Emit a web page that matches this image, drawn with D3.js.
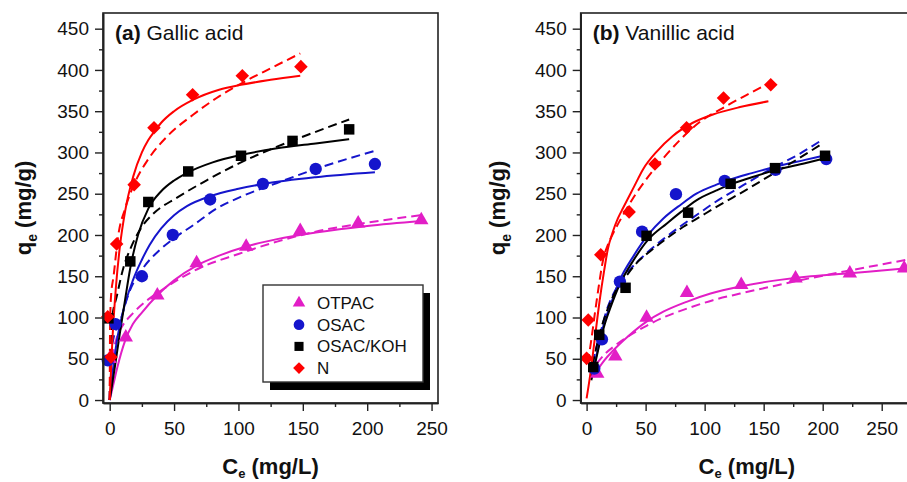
<!DOCTYPE html>
<html>
<head>
<meta charset="utf-8">
<script src="https://cdn.jsdelivr.net/npm/d3@7"></script>
<style>
  body { margin: 0; background: #fff; }
  text { font-family: Arial, "Liberation Sans", sans-serif; fill: #111; }
</style>
</head>
<body>
<svg id="chart"></svg>
<script>
// series names (legend order)
const seriesNames = ["OTPAC", "OSAC", "OSAC/KOH", "N"];

// axis ticks
const yTickValues = [0, 50, 100, 150, 200, 250, 300, 350, 400, 450];
const yMinorValues = [25, 75, 125, 175, 225, 275, 325, 375, 425];
const xTickValues = [0, 50, 100, 150, 200, 250];
const xMinorValues = [25, 75, 125, 175, 225];

// (a) Gallic acid - measured points [Ce, qe]
const gallicOTPAC = [[0, 50], [12.5, 76], [37, 127], [67.5, 166], [106, 186], [148, 205], [193, 214], [242, 218]];
const gallicOSAC = [[-1.5, 48], [4.5, 92], [25, 150], [49, 200], [78, 243], [119, 262], [160, 280], [206, 286]];
const gallicKOH = [[-1, 99], [16, 168], [30, 240], [61, 277], [102, 296], [142, 314], [186, 328]];
const gallicN = [[1, 52], [-1.5, 101], [5.4, 189], [19, 261], [34.4, 330], [64.4, 370], [103, 393], [148.5, 404]];

// (a) fitted curves, solid (fit1) and dashed (fit2)
const gallicOTPACFit1 = [[0, 0], [3, 20], [6, 40], [12, 72], [18, 92], [25, 106], [37, 127], [50, 145], [67.5, 163], [85, 175], [106, 186], [130, 195], [160, 203], [200, 211], [242, 217]];
const gallicOTPACFit2 = [[0, 0], [1, 40], [3, 60], [6, 78], [10, 90], [18, 105], [30, 122], [44, 137], [70, 160], [100, 177], [130, 192], [160, 204], [200, 215], [242, 224]];
const gallicOSACFit1 = [[0, 0], [2, 30], [5.4, 70], [10, 105], [18, 145], [25, 170], [31, 188], [40, 208], [50, 224], [60, 235], [78, 247], [100, 256], [120, 262], [160, 270], [206, 276]];
const gallicOSACFit2 = [[0, 0], [1, 55], [3, 75], [8, 95], [15, 130], [26, 160], [39, 182], [50, 196], [65, 212], [83, 232], [100, 245], [130, 263], [160, 280], [206, 302]];
const gallicKOHFit1 = [[0, 0], [4, 40], [8, 82], [12, 122], [16, 160], [22, 200], [30, 232], [40, 253], [50, 266], [61, 276], [80, 288], [102, 297], [130, 305], [160, 311], [186, 316]];
const gallicKOHFit2 = [[0, 0], [1, 80], [2, 100], [5.4, 125], [10.6, 160], [16, 183], [25, 210], [34, 226], [52, 245], [75, 266], [102, 288], [130, 307], [160, 325], [186, 340]];
const gallicNFit1 = [[0, 0], [2, 70], [5, 140], [8, 187], [12, 229], [18.3, 271], [25, 300], [30, 315], [35, 326], [40, 336], [50, 350], [65, 364], [85, 376], [102, 382], [125, 388], [148, 393]];
const gallicNFit2 = [[0, 0], [0.3, 90], [1, 125], [3, 150], [6.7, 200], [12, 232], [20, 265], [30, 292], [45, 320], [65, 346], [85, 368], [105, 386], [125, 402], [148, 420]];

// (b) Vanillic acid - measured points
const vanOTPAC = [[9, 32], [24.3, 53], [50.8, 100], [85, 130], [131, 139.5], [177, 147.6], [223, 153.6], [269, 159.7]];
const vanOSAC = [[6.5, 38], [13, 73.6], [28.2, 143.5], [47, 204], [75.7, 249.5], [117, 265.6], [160, 279], [203, 292]];
const vanKOH = [[5.6, 40], [10.7, 79], [33, 136], [50.8, 199], [86, 227], [122, 262], [159.6, 281], [202, 296]];
const vanN = [[0, 50.5], [1.4, 97], [12, 176], [36, 228], [57.9, 286], [84.7, 330], [116, 366], [156, 382]];

// (b) fitted curves
const vanOTPACFit1 = [[5.6, 28], [10, 38], [15, 48], [22.5, 60], [35, 77], [50.8, 95], [65, 107], [84.7, 119], [105, 129], [130, 137.5], [163.8, 145.6], [190, 150], [223, 153.6], [250, 157], [275, 160]];
const vanOTPACFit2 = [[8.5, 44], [15, 55], [25, 67], [35, 77], [50.8, 90], [65, 100], [87.5, 112], [107, 121], [130, 129], [158, 138], [177, 144], [223, 157], [275, 171]];
const vanOSACFit1 = [[4, 26], [8, 52], [11.3, 73], [15, 94], [19.7, 113], [28, 145], [40, 175], [52, 200], [65, 220], [80, 237], [93, 250], [110, 261], [121, 267], [140, 275], [161, 283], [185, 291], [203, 297]];
const vanOSACFit2 = [[5, 45], [8, 62], [12.4, 85], [16.6, 107], [25, 135], [35, 155], [50.8, 178], [65, 195], [79, 210], [95, 226], [107, 238], [130, 258], [160, 283], [180, 298], [197, 313]];
const vanKOHFit1 = [[4, 24], [8, 49], [11.3, 70], [15, 90], [19.7, 110], [28, 140], [40, 170], [52, 194], [68, 214], [80, 228], [93, 242], [110, 254], [121, 261], [140, 270], [161, 279], [185, 287], [202, 293]];
const vanKOHFit2 = [[5, 42], [8.5, 65], [12, 85], [17, 107], [25, 133], [35, 153], [45, 170], [53.6, 180], [68, 196], [82, 210], [96, 222], [110, 234], [135.6, 255], [160, 276], [180, 293], [200, 311]];
const vanNFit1 = [[0, 2], [3, 30], [7, 75], [11, 120], [15, 158], [18, 183], [22, 203], [26.5, 220], [31, 233], [40, 258], [48, 280], [60, 302], [73, 320], [90, 336], [107, 346], [130, 355], [154, 362]];
const vanNFit2 = [[1, 45], [4, 73], [7, 105], [10, 135], [14, 170], [18, 188], [22.5, 202], [30, 222], [40, 246], [50.8, 268], [65, 293], [79, 315], [95, 336], [118, 356], [140, 373], [156, 385]];

// styles
const colors = { "OTPAC": "#e21ec6", "OSAC": "#1515cc", "OSAC/KOH": "#000000", "N": "#ff0000" };
const shapes = { "OTPAC": d3.symbolTriangle, "OSAC": d3.symbolCircle, "OSAC/KOH": d3.symbolSquare, "N": d3.symbolSquare };
const sizes = { "OTPAC": 90, "OSAC": 120, "OSAC/KOH": 110, "N": 92 };

const panels = [
  {
    tag: "(a)", title: " Gallic acid",
    left: 103, right: 438, xDomain: [-5.2, 255], labelX: 31,
    series: [
      { name: "OTPAC", pts: gallicOTPAC, fit1: gallicOTPACFit1, fit2: gallicOTPACFit2 },
      { name: "OSAC", pts: gallicOSAC, fit1: gallicOSACFit1, fit2: gallicOSACFit2 },
      { name: "OSAC/KOH", pts: gallicKOH, fit1: gallicKOHFit1, fit2: gallicKOHFit2 },
      { name: "N", pts: gallicN, fit1: gallicNFit1, fit2: gallicNFit2 }
    ],
    legend: true
  },
  {
    tag: "(b)", title: " Vanillic acid",
    left: 580.7, right: 913, xDomain: [-5, 276.5], labelX: 505,
    series: [
      { name: "OTPAC", pts: vanOTPAC, fit1: vanOTPACFit1, fit2: vanOTPACFit2 },
      { name: "OSAC", pts: vanOSAC, fit1: vanOSACFit1, fit2: vanOSACFit2 },
      { name: "OSAC/KOH", pts: vanKOH, fit1: vanKOHFit1, fit2: vanKOHFit2 },
      { name: "N", pts: vanN, fit1: vanNFit1, fit2: vanNFit2 }
    ],
    legend: false
  }
];

const svgWidth = 907, svgHeight = 482;
const plotTop = 13, plotBottom = 403;

const svg = d3.select("#chart")
  .attr("width", svgWidth)
  .attr("height", svgHeight);

const y = d3.scaleLinear().domain([-3.6, 469]).range([plotBottom, plotTop]);

function symbolPath(name, scale) {
  return d3.symbol().type(shapes[name]).size(sizes[name] * (scale || 1))();
}

panels.forEach((p, pi) => {
  const x = d3.scaleLinear().domain(p.xDomain).range([p.left, p.right]);
  const g = svg.append("g");

  const clipId = "clip" + pi;
  svg.append("clipPath").attr("id", clipId)
    .append("rect")
    .attr("x", p.left).attr("y", plotTop)
    .attr("width", p.right - p.left).attr("height", plotBottom - plotTop);

  const plot = g.append("g").attr("clip-path", "url(#" + clipId + ")");

  const line = d3.line()
    .x(d => x(d[0]))
    .y(d => y(d[1]))
    .curve(d3.curveMonotoneX);

  // fitted lines
  p.series.forEach(s => {
    plot.append("path")
      .attr("d", line(s.fit2))
      .attr("fill", "none")
      .attr("stroke", colors[s.name])
      .attr("stroke-width", 2)
      .attr("stroke-dasharray", "9,5");
    plot.append("path")
      .attr("d", line(s.fit1))
      .attr("fill", "none")
      .attr("stroke", colors[s.name])
      .attr("stroke-width", 2);
  });

  // points
  p.series.forEach(s => {
    g.selectAll(null)
      .data(s.pts)
      .enter()
      .append("path")
      .attr("d", symbolPath(s.name))
      .attr("transform", d => "translate(" + x(d[0]) + "," + y(d[1]) + ")" + (s.name === "N" ? " rotate(45)" : ""))
      .attr("fill", colors[s.name]);
  });

  // frame
  g.append("rect")
    .attr("x", p.left).attr("y", plotTop)
    .attr("width", p.right - p.left).attr("height", plotBottom - plotTop)
    .attr("fill", "none")
    .attr("stroke", "#222")
    .attr("stroke-width", 1.6);

  // axes
  g.append("g")
    .attr("transform", "translate(" + p.left + ",0)")
    .call(d3.axisLeft(y).tickValues(yTickValues).tickSize(8).tickSizeOuter(0).tickPadding(6));
  g.append("g")
    .attr("transform", "translate(" + p.left + ",0)")
    .call(d3.axisLeft(y).tickValues(yMinorValues).tickSize(4).tickSizeOuter(0).tickFormat(""));
  g.append("g")
    .attr("transform", "translate(0," + plotBottom + ")")
    .call(d3.axisBottom(x).tickValues(xTickValues).tickSize(8).tickSizeOuter(0).tickPadding(11));
  g.append("g")
    .attr("transform", "translate(0," + plotBottom + ")")
    .call(d3.axisBottom(x).tickValues(xMinorValues).tickSize(4).tickSizeOuter(0).tickFormat(""));

  g.selectAll(".domain").attr("stroke", "#222").attr("stroke-width", 1.6);
  g.selectAll(".tick line").attr("stroke", "#222").attr("stroke-width", 1.4);
  g.selectAll(".tick text")
    .attr("font-size", 19)
    .attr("font-family", "Arial, 'Liberation Sans', sans-serif")
    .attr("fill", "#111");

  // panel title
  const t = g.append("text")
    .attr("x", p.left + 12)
    .attr("y", 40)
    .attr("font-size", 21);
  t.append("tspan").attr("font-weight", "bold").text(p.tag);
  t.append("tspan").text(p.title);

  // axis titles
  const cx = (p.left + p.right) / 2;
  const xt = g.append("text")
    .attr("x", cx)
    .attr("y", 474)
    .attr("text-anchor", "middle")
    .attr("font-size", 22)
    .attr("font-weight", "bold");
  xt.append("tspan").text("C");
  xt.append("tspan").attr("font-size", 13).attr("dy", 4).text("e");
  xt.append("tspan").attr("dy", -4).text(" (mg/L)");

  const yt = g.append("text")
    .attr("transform", "translate(" + p.labelX + "," + ((plotTop + plotBottom) / 2) + ") rotate(-90)")
    .attr("text-anchor", "middle")
    .attr("font-size", 22)
    .attr("font-weight", "bold");
  yt.append("tspan").text("q");
  yt.append("tspan").attr("font-size", 14).attr("dy", 6).text("e");
  yt.append("tspan").attr("dy", -6).text(" (mg/g)");

  // legend
  if (p.legend) {
    const lg = g.append("g");
    const lx = 263, ly = 285, lw = 160, lh = 97;
    lg.append("rect")
      .attr("x", lx + 7).attr("y", ly + 8)
      .attr("width", lw).attr("height", lh)
      .attr("fill", "#000");
    lg.append("rect")
      .attr("x", lx).attr("y", ly)
      .attr("width", lw).attr("height", lh)
      .attr("fill", "#fff")
      .attr("stroke", "#333")
      .attr("stroke-width", 1.4);
    seriesNames.forEach((name, i) => {
      const ry = ly + 18 + i * 21.7;
      lg.append("path")
        .attr("d", symbolPath(name, 0.75))
        .attr("transform", "translate(" + (lx + 36) + "," + ry + ")" + (name === "N" ? " rotate(45)" : ""))
        .attr("fill", colors[name]);
      lg.append("text")
        .attr("x", lx + 54)
        .attr("y", ry + 6)
        .attr("font-size", 17)
        .text(name);
    });
  }
});
</script>
</body>
</html>
